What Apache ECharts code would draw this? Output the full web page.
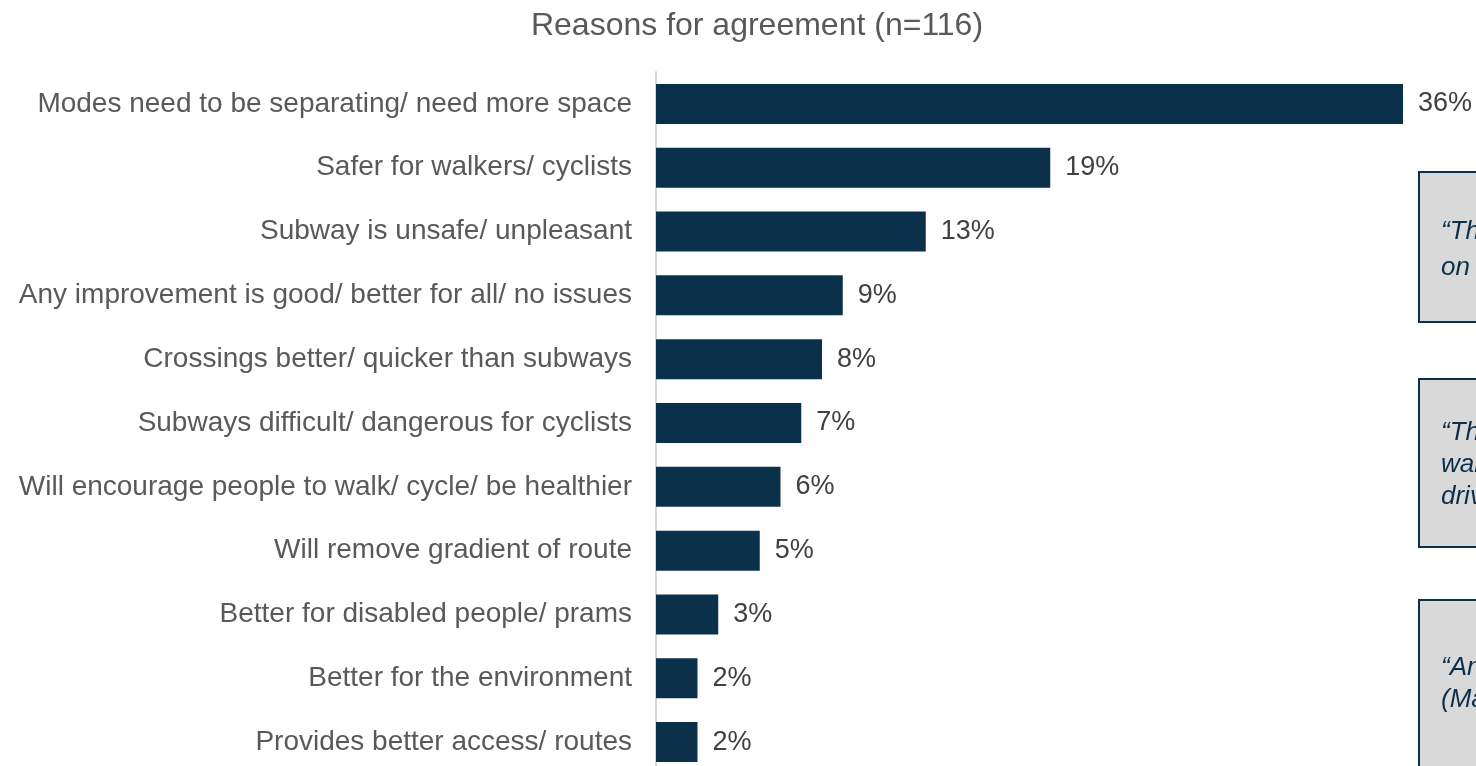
<!DOCTYPE html>
<html>
<head>
<meta charset="utf-8">
<script src="https://cdn.jsdelivr.net/npm/echarts@6/dist/echarts.min.js"></script>
<style>
  html, body { margin: 0; padding: 0; background: #ffffff; overflow: hidden; }
  #chart { width: 1476px; height: 780px; }
</style>
</head>
<body>
<div id="chart"></div>
<script>
// Reasons given by respondents who agreed (share of n=116)
const categories = [
  'Modes need to be separating/ need more space',
  'Safer for walkers/ cyclists',
  'Subway is unsafe/ unpleasant',
  'Any improvement is good/ better for all/ no issues',
  'Crossings better/ quicker than subways',
  'Subways difficult/ dangerous for cyclists',
  'Will encourage people to walk/ cycle/ be healthier',
  'Will remove gradient of route',
  'Better for disabled people/ prams',
  'Better for the environment',
  'Provides better access/ routes'
];
const shares = [36, 19, 13, 9, 8, 7, 6, 5, 3, 2, 2];

const titleText = 'Reasons for agreement (n=116)';

// Respondent quotes shown in the side panels
const quoteA = ['\u201CThere is not enough room', 'on the path for everyone\u201D'];
const quoteB = ['\u201CThe subway is dark and', 'walkers feel unsafe, and', 'drivers do not see cyclists\u201D'];
const quoteC = ['\u201CAn improvement for all\u201D', '(Male, 45-54)'];

const NAVY = '#0b3049';
const TEXT = '#595959';
const FONT = '"Liberation Sans", Arial, sans-serif';

const chart = echarts.init(document.getElementById('chart'), null, { renderer: 'canvas' });

function quoteBox(top, height, lines, firstLineY, lineGap) {
  const els = [{
    type: 'rect',
    shape: { x: 1419, y: top, width: 300, height: height },
    style: { fill: '#d9d9d9', stroke: NAVY, lineWidth: 2 }
  }];
  lines.forEach((t, i) => {
    els.push({
      type: 'text',
      x: 1441,
      y: firstLineY + i * lineGap,
      style: {
        text: t,
        fill: NAVY,
        font: 'italic 26px ' + FONT,
        verticalAlign: 'middle',
        align: 'left'
      }
    });
  });
  return els;
}

const option = {
  backgroundColor: '#ffffff',
  animation: false,
  title: {
    text: titleText,
    left: 752,
    top: 5,
    textAlign: 'center',
    textStyle: { color: TEXT, fontSize: 32, fontWeight: 'normal', fontFamily: FONT }
  },
  grid: { left: 656, top: 72, width: 747, height: 702, containLabel: false },
  xAxis: {
    type: 'value',
    min: 0,
    max: 36,
    show: false
  },
  yAxis: {
    type: 'category',
    data: categories,
    inverse: true,
    axisLine: { show: true, lineStyle: { color: '#d9d9d9', width: 2 } },
    axisTick: { show: false },
    axisLabel: { color: TEXT, fontSize: 28, fontFamily: FONT, margin: 24 }
  },
  series: [{
    type: 'bar',
    data: shares,
    barWidth: 40,
    itemStyle: { color: NAVY },
    label: {
      show: true,
      position: 'right',
      distance: 15,
      formatter: p => p.value + '%',
      color: '#404040',
      fontSize: 27,
      fontFamily: FONT
    }
  }],
  graphic: [].concat(
    quoteBox(172, 150, quoteA, 232, 36),
    quoteBox(379, 168, quoteB, 433, 32),
    quoteBox(600, 170, quoteC, 668, 32)
  )
};

chart.setOption(option);
</script>
</body>
</html>
